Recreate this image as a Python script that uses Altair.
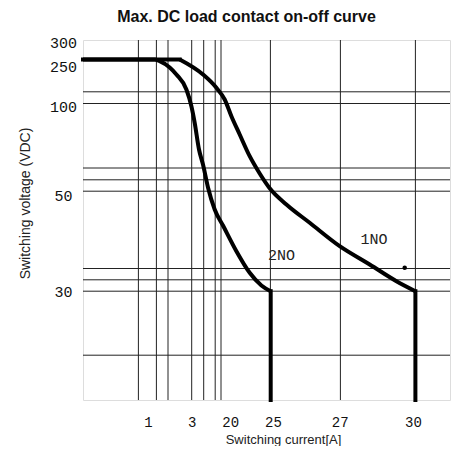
import altair as alt
import pandas as pd

# Positions are in the chart's own (non-uniform) grid units: x 0..367, y 0..360
x_grid = [55.4, 73.4, 85.0, 108.7, 120.7, 132.2, 138.0, 187.4, 257.4, 332.4]
y_grid = [308.2, 296.5, 232.0, 220.2, 208.8, 131.5, 120.2, 108.8, 44.8]

x_tick_pos = [65, 108.7, 147.2, 190, 256.7, 330]
x_tick_labels = ["1", "3", "20", "25", "27", "30"]
y_tick_pos = [357.5, 333.8, 293.2, 204.5, 108.8]
y_tick_labels = ["300", "250", "100", "50", "30"]

# 2NO: flat + smooth curve, then vertical drop
curve_2no_u = [0, 71.7, 76.7, 86.7, 93.4, 103.4, 108.4, 111.7, 116, 120, 125, 131.7, 140, 153.4, 166.7, 178.4, 187.7]
curve_2no_v = [340.5, 340.5, 338.8, 332.5, 325.5, 310.5, 293.8, 277.2, 250.5, 235.5, 212.5, 190.5, 174.5, 148.8, 127.2, 114.5, 108.8]
drop_2no_u = [187.7, 187.7]
drop_2no_v = [108.8, 0]

# 1NO: flat, curve, vertical drop
flat_1no_u = [0, 96.7]
flat_1no_v = [340.5, 340.5]
curve_1no_u = [96.7, 120, 133.4, 141.7, 148.4, 156.7, 166.7, 176.7, 186.7, 203.4, 226.7, 256.7, 286.7, 313.4, 332.4]
curve_1no_v = [340.5, 325.5, 312.2, 300.5, 283.8, 265.5, 243.8, 226.5, 211.7, 195.5, 177.2, 153.8, 135.5, 118.8, 108.8]
drop_1no_u = [332.4, 332.4]
drop_1no_v = [108.8, 0]

label_text = ["2NO", "1NO"]
label_u = [198.4, 291.0]
label_v = [145.5, 161.2]

dot_u = [321.7]
dot_v = [132.2]


def seg(name, us, vs):
    return [{"u": u, "v": v, "i": i, "s": name} for i, (u, v) in enumerate(zip(us, vs))]


smooth = pd.DataFrame(seg("c2", curve_2no_u, curve_2no_v) + seg("c1", curve_1no_u, curve_1no_v))
straight = pd.DataFrame(
    seg("d2", drop_2no_u, drop_2no_v) + seg("f1", flat_1no_u, flat_1no_v) + seg("d1", drop_1no_u, drop_1no_v)
)
xg = pd.DataFrame({"u": x_grid})
yg = pd.DataFrame({"v": y_grid})
labels = pd.DataFrame({"t": label_text, "u": label_u, "v": label_v})
dots = pd.DataFrame({"u": dot_u, "v": dot_v})

xs = alt.Scale(domain=[0, 367], nice=False, zero=False)
ys = alt.Scale(domain=[0, 360], nice=False, zero=False)


def js_list(vals, quote=False):
    if quote:
        return "[" + ",".join("'" + str(v) + "'" for v in vals) + "]"
    return "[" + ",".join(str(v) for v in vals) + "]"


x_axis = alt.Axis(
    values=x_tick_pos,
    labelExpr=f"{js_list(x_tick_labels, True)}[indexof({js_list(x_tick_pos)}, datum.value)]",
    grid=False, domain=False, ticks=False, tickSize=0,
    labelFont="Liberation Mono", labelFontSize=14, labelColor="#111",
    labelBaseline="middle", labelPadding=22, labelAlign="center",
    title="Switching current[A]", titleFont="Liberation Sans", titleFontSize=13,
    titleFontWeight="normal", titleColor="#222", titleX=200, titleY=39,
    titleBaseline="middle", titleAlign="center",
)
y_axis = alt.Axis(
    values=y_tick_pos,
    labelExpr=f"{js_list(y_tick_labels, True)}[indexof({js_list(y_tick_pos)}, datum.value)]",
    grid=False, domain=False, ticks=False, tickSize=0,
    labelFont="Liberation Mono", labelFontSize=15, labelColor="#111",
    labelBaseline="middle", labelPadding=20, labelAlign="center",
    title="Switching voltage (VDC)", titleFont="Liberation Sans", titleFontSize=14,
    titleFontWeight="normal", titleColor="#222", titleX=-58, titleY=163,
    titleBaseline="middle", titleAlign="center", titleAngle=-90,
)

vgrid = alt.Chart(xg).mark_rule(color="#222", strokeWidth=1).encode(
    x=alt.X("u:Q", scale=xs, axis=x_axis)
)
hgrid = alt.Chart(yg).mark_rule(color="#222", strokeWidth=1).encode(
    y=alt.Y("v:Q", scale=ys, axis=y_axis)
)
smooth_lines = alt.Chart(smooth).mark_line(color="black", strokeWidth=4, interpolate="monotone").encode(
    x=alt.X("u:Q", scale=xs),
    y=alt.Y("v:Q", scale=ys),
    detail="s:N",
    order=alt.Order("i:Q"),
)
straight_lines = alt.Chart(straight).mark_line(color="black", strokeWidth=4, strokeCap="square").encode(
    x=alt.X("u:Q", scale=xs),
    y=alt.Y("v:Q", scale=ys),
    detail="s:N",
    order=alt.Order("i:Q"),
)
texts = alt.Chart(labels).mark_text(
    font="Liberation Mono", fontSize=15, color="#222", baseline="middle", align="center"
).encode(x=alt.X("u:Q", scale=xs), y=alt.Y("v:Q", scale=ys), text="t:N")
dot = alt.Chart(dots).mark_point(filled=True, color="black", size=20, opacity=1).encode(
    x=alt.X("u:Q", scale=xs), y=alt.Y("v:Q", scale=ys)
)

chart = (
    alt.layer(vgrid, hgrid, smooth_lines, straight_lines, texts, dot)
    .properties(
        width=367,
        height=360,
        title=alt.TitleParams(
            "Max. DC load contact on-off curve",
            font="Liberation Sans", fontSize=16, fontWeight="bold", color="#111",
            anchor="middle", dx=-20, offset=11,
        ),
        autosize=alt.AutoSizeParams(type="none"),
        padding={"left": 75, "top": 32, "right": 1, "bottom": 46},
    )
    .configure_view(stroke="#111", strokeWidth=1.5)
    .configure(background="white")
)

chart.save("out.html", embed_options={"renderer": "svg", "actions": False})
